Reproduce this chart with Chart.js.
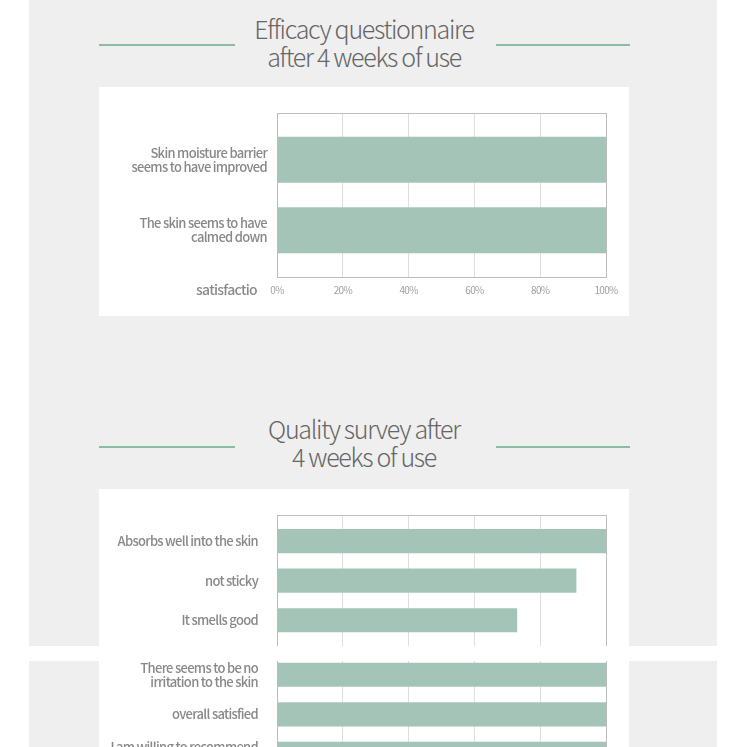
<!DOCTYPE html>
<html>
<head>
<meta charset="utf-8">
<script src="https://cdn.jsdelivr.net/npm/chart.js@4"></script>
<style>
    html, body { margin: 0; padding: 0; background: #fff; }
    body { width: 747px; height: 747px; overflow: hidden; position: relative; font-family: "Noto Sans CJK KR", "Noto Sans", sans-serif; }
    .clip { position: absolute; left: 0; width: 747px; overflow: hidden; }
    .page { position: absolute; left: 0; width: 747px; height: 1100px; }
    .panel { position: absolute; left: 29px; width: 688px; top: 0; height: 1100px; background: #efefef; }
    .title { position: absolute; left: 99px; width: 530px; text-align: center; font-size: 25px; line-height: 28px; font-weight: 300; color: #666; letter-spacing: -1.3px; }
    .rule { position: absolute; height: 2px; background: #8cbba5; }
    .card { position: absolute; left: 99px; width: 530px; background: #fff; }
    .box { position: absolute; left: 99px; width: 530px; }
    .axis-name { position: absolute; right: 490px; font-size: 14px; line-height: 16px; font-weight: 500; color: #8a8a8a; letter-spacing: -0.7px; }
</style>
</head>
<body>
<script>
// Efficacy questionnaire
const efficacyLabels = [
    ['Skin moisture barrier', 'seems to have improved'],
    ['The skin seems to have', 'calmed down']
];
const efficacyValues = [100, 100];

// Quality survey
const qualityLabels = [
    'Absorbs well into the skin',
    'not sticky',
    'It smells good',
    ['There seems to be no', 'irritation to the skin'],
    'overall satisfied',
    ['I am willing to recommend', 'it to others']
];
const qualityValues = [100, 91, 73, 100, 100, 100];

const xTicks = [0, 20, 40, 60, 80, 100];
const barColor = '#a4c4b8';
const fontFamily = '"Noto Sans CJK KR", "Noto Sans", sans-serif';

// bordo completo dell'area grafico
const framePlugin = {
    id: 'frame',
    beforeDraw(chart) {
        chart.ctx.letterSpacing = '-0.7px';
    },
    afterDraw(chart) {
        const { ctx, chartArea: a } = chart;
        ctx.save();
        ctx.strokeStyle = '#bdbdbd';
        ctx.lineWidth = 1;
        ctx.strokeRect(Math.round(a.left) + 0.5, Math.round(a.top) + 0.5,
            Math.round(a.right - a.left), Math.round(a.bottom - a.top));
        ctx.restore();
    }
};

function makeChart(canvas, labels, values, opts) {
    return new Chart(canvas, {
        type: 'bar',
        data: {
            datasets: [{
                data: values.map((v, i) => ({ x: v, y: i })),
                backgroundColor: barColor,
                categoryPercentage: 1,
                barPercentage: opts.bar
            }]
        },
        options: {
            indexAxis: 'y',
            responsive: false,
            animation: false,
            layout: { padding: { top: 26, right: 23, left: 0, bottom: 0 } },
            plugins: { legend: { display: false }, tooltip: { enabled: false } },
            scales: {
                x: {
                    type: 'linear',
                    min: 0,
                    max: 100,
                    afterBuildTicks: s => { s.ticks = xTicks.map(v => ({ value: v })); },
                    afterFit: s => { s.height = 39; },
                    grid: { color: '#dedede', drawTicks: false },
                    border: { color: '#bdbdbd' },
                    ticks: {
                        padding: 7,
                        color: '#a0a0a0',
                        font: { family: fontFamily, size: 10 },
                        callback: v => v + '%'
                    }
                },
                y: {
                    type: 'linear',
                    reverse: true,
                    offset: false,
                    min: -0.66,
                    max: labels.length - 0.34,
                    afterBuildTicks: s => { s.ticks = labels.map((_, i) => ({ value: i })); },
                    afterFit: s => {
                        s.width = 178;
                        s.paddingTop = 0;
                        s.paddingBottom = 0;
                    },
                    grid: { display: false, drawTicks: false },
                    border: { color: '#bdbdbd' },
                    ticks: {
                        padding: opts.pad,
                        color: '#888',
                        font: { family: fontFamily, size: 13, weight: 500, lineHeight: 1.08 },
                        callback: v => labels[v]
                    }
                }
            }
        },
        plugins: [framePlugin]
    });
}

function el(parent, cls, css, text) {
    const d = document.createElement('div');
    d.className = cls;
    Object.assign(d.style, css || {});
    if (text) d.innerHTML = text;
    parent.appendChild(d);
    return d;
}

function buildPage(root) {
    el(root, 'panel');

    el(root, 'title', { top: '14px' }, 'Efficacy questionnaire<br>after 4 weeks of use');
    el(root, 'rule', { left: '99px', width: '136px', top: '44px' });
    el(root, 'rule', { left: '496px', width: '134px', top: '44px' });
    el(root, 'card', { top: '87px', height: '229px' });
    const box1 = el(root, 'box', { top: '87px', height: '229px' });
    const c1 = document.createElement('canvas');
    c1.width = 530; c1.height = 229;
    box1.appendChild(c1);
    el(root, 'axis-name', { top: '281px' }, 'satisfactio');
    makeChart(c1, efficacyLabels, efficacyValues, { bar: 0.65, pad: 10 });

    el(root, 'title', { top: '414px' }, 'Quality survey after<br>4 weeks of use');
    el(root, 'rule', { left: '99px', width: '136px', top: '446px' });
    el(root, 'rule', { left: '496px', width: '134px', top: '446px' });
    el(root, 'card', { top: '489px', height: '350px' });
    const box2 = el(root, 'box', { top: '489px', height: '315px' });
    const c2 = document.createElement('canvas');
    c2.width = 530; c2.height = 315;
    box2.appendChild(c2);
    el(root, 'axis-name', { top: '783px' }, 'satisfactio');
    makeChart(c2, qualityLabels, qualityValues, { bar: 0.61, pad: 19 });
}

// screenshot "cucito": parte alta, striscia bianca, parte bassa spostata di 15px
const upperClip = el(document.body, 'clip', { top: '0px', height: '646px' });
buildPage(el(upperClip, 'page', { top: '0px' }));
const lowerClip = el(document.body, 'clip', { top: '661px', height: '86px' });
buildPage(el(lowerClip, 'page', { top: '-646px' }));
</script>
</body>
</html>
